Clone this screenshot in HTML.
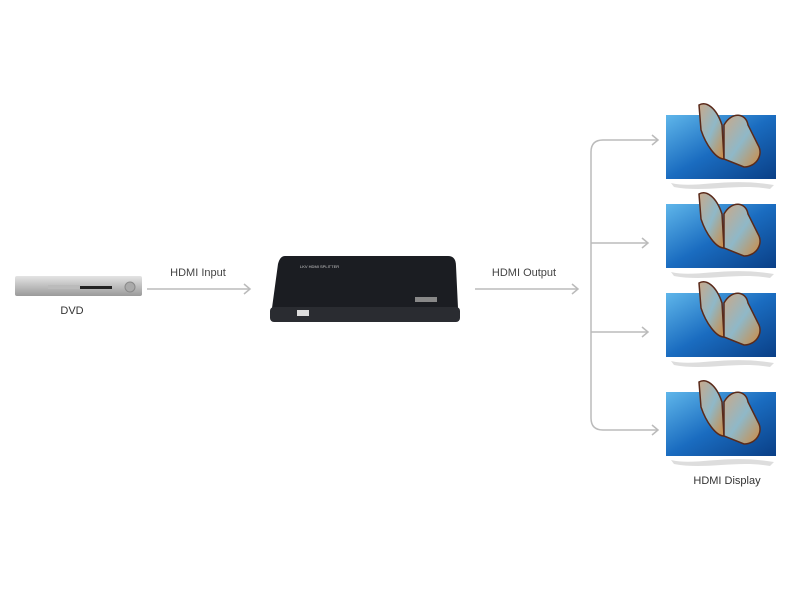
<!DOCTYPE html>
<html><head><style>
body{margin:0;width:800px;height:597px;background:#fff;overflow:hidden;font-family:"Liberation Sans",sans-serif;}
</style></head><body>
<svg width="800" height="597" viewBox="0 0 800 597" xmlns="http://www.w3.org/2000/svg">
<defs>
<linearGradient id="scr" x1="0" y1="0" x2="1" y2="1">
<stop offset="0" stop-color="#5fb6ea"/><stop offset="0.5" stop-color="#1a6cc0"/><stop offset="1" stop-color="#0a3f86"/>
</linearGradient>
<linearGradient id="wing" x1="0" y1="0" x2="1" y2="1">
<stop offset="0" stop-color="#c9a98a"/><stop offset="0.5" stop-color="#8fb8c8"/><stop offset="1" stop-color="#d08a40"/>
</linearGradient>
<linearGradient id="dvd" x1="0" y1="0" x2="0" y2="1">
<stop offset="0" stop-color="#e4e4e4"/><stop offset="1" stop-color="#9a9a9a"/>
</linearGradient>
<g id="tv">
<rect x="0" y="0" width="110" height="64" fill="url(#scr)"/>
<path d="M33 -10 C40 -14 50 -8 56 10 L58 44 C50 44 40 30 35 15 Z" fill="url(#wing)" stroke="#5a2a1a" stroke-width="1.5"/>
<path d="M58 10 C66 -4 80 -2 82 10 L92 30 C98 40 90 52 78 52 L58 44 Z" fill="url(#wing)" stroke="#5a2a1a" stroke-width="1.5"/>
<path d="M5 68 C30 74 60 62 108 70 L104 74 C70 68 40 78 8 72 Z" fill="#ddd"/>
</g>
</defs>
<!-- DVD -->
<rect x="15" y="276" width="127" height="20" rx="2" fill="url(#dvd)"/>
<rect x="48" y="285" width="32" height="4" fill="#bbb"/>
<rect x="80" y="286" width="32" height="3" fill="#222"/>
<circle cx="130" cy="287" r="5" fill="#aaa" stroke="#888"/>
<text x="72" y="314" font-size="11" fill="#333" text-anchor="middle">DVD</text>
<!-- arrows -->
<g stroke="#bbb" stroke-width="1.5" fill="none">
<line x1="147" y1="289" x2="250" y2="289"/><polyline points="244,284 250,289 244,294"/>
<line x1="475" y1="289" x2="578" y2="289"/><polyline points="572,284 578,289 572,294"/>
<path d="M658 140 H603 Q591 140 591 152 V418 Q591 430 603 430 H658"/>
<line x1="591" y1="243" x2="648" y2="243"/><line x1="591" y1="332" x2="648" y2="332"/>
<polyline points="652,135 658,140 652,145"/><polyline points="642,238 648,243 642,248"/>
<polyline points="642,327 648,332 642,337"/><polyline points="652,425 658,430 652,435"/>
</g>
<text x="198" y="276" font-size="11" fill="#444" text-anchor="middle">HDMI Input</text>
<text x="524" y="276" font-size="11" fill="#444" text-anchor="middle">HDMI Output</text>
<!-- splitter -->
<path d="M285 256 L448 256 Q456 256 456 266 L458 308 L272 308 L278 264 Q280 256 285 256 Z" fill="#1b1d22"/>
<rect x="270" y="307" width="190" height="15" rx="4" fill="#2a2c31"/>
<rect x="297" y="310" width="12" height="6" fill="#ddd"/>
<rect x="415" y="297" width="22" height="5" fill="#888"/>
<text x="300" y="268" font-size="4" fill="#ccc">LKV HDMI SPLITTER</text>
<!-- TVs -->
<use href="#tv" x="666" y="115"/>
<use href="#tv" x="666" y="204"/>
<use href="#tv" x="666" y="293"/>
<use href="#tv" x="666" y="392"/>
<text x="727" y="484" font-size="11" fill="#333" text-anchor="middle">HDMI Display</text>
</svg>
</body></html>
